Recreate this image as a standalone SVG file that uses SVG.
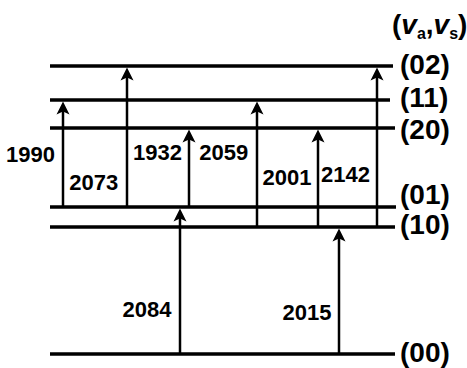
<svg xmlns="http://www.w3.org/2000/svg" width="467" height="368" viewBox="0 0 467 368">
<style>
.lvl{stroke:#000;stroke-width:3.5;fill:none}
.arr{stroke:#000;stroke-width:2.5;fill:none;marker-end:url(#ah)}
.lab{font-family:"Liberation Sans",Arial,sans-serif;font-weight:bold;font-size:22px;fill:#000}
.st{font-family:"Liberation Sans",Arial,sans-serif;font-weight:bold;font-size:28px;fill:#000}
</style>
<defs>
<marker id="ah" markerUnits="userSpaceOnUse" viewBox="-6 -7 15 14" markerWidth="15" markerHeight="14" refX="0" refY="0" orient="auto" overflow="visible">
<path d="M8,0 L-5,-6.5 L-2,0 L-5,6.5 Z" fill="#000"/>
</marker>
</defs>
<rect width="467" height="368" fill="#fff"/>
<g id="levels">
<g id="L02"><line class="lvl" x1="50" y1="66" x2="393" y2="66"/><text class="st" x="400" y="74">(02)</text></g>
<g id="L11"><line class="lvl" x1="50" y1="100" x2="390" y2="100"/><text class="st" x="400" y="107">(11)</text></g>
<g id="L20"><line class="lvl" x1="50" y1="128" x2="395" y2="128"/><text class="st" x="400" y="139">(20)</text></g>
<g id="L01"><line class="lvl" x1="50" y1="207" x2="396" y2="207"/><text class="st" x="400" y="204">(01)</text></g>
<g id="L10"><line class="lvl" x1="50" y1="227" x2="395" y2="227"/><text class="st" x="400" y="234">(10)</text></g>
<g id="L00"><line class="lvl" x1="50" y1="354" x2="395" y2="354"/><text class="st" x="400" y="362">(00)</text></g>
</g>
<g id="header"><text class="st" x="392" y="34" font-size="24">(<tspan font-style="italic">v</tspan><tspan font-size="16" dy="5">a</tspan><tspan dy="-5">,</tspan><tspan font-style="italic">v</tspan><tspan font-size="16" dy="5">s</tspan><tspan dy="-5">)</tspan></text></g>
<g id="connectors">
<line class="arr" x1="63" y1="207" x2="63" y2="109.5"/>
<line class="arr" x1="127" y1="207" x2="127" y2="75.5"/>
<line class="arr" x1="189" y1="207" x2="189" y2="137.5"/>
<line class="arr" x1="257" y1="227" x2="257" y2="109.5"/>
<line class="arr" x1="318" y1="227" x2="318" y2="137.5"/>
<line class="arr" x1="377" y1="227" x2="377" y2="75.5"/>
<line class="arr" x1="180" y1="354" x2="180" y2="216.5"/>
<line class="arr" x1="339" y1="354" x2="339" y2="236.5"/>
</g>
<g id="labels">
<text class="lab" x="6" y="161.7">1990</text>
<text class="lab" x="69.3" y="190">2073</text>
<text class="lab" x="133" y="160">1932</text>
<text class="lab" x="199.3" y="160">2059</text>
<text class="lab" x="262.6" y="185">2001</text>
<text class="lab" x="321" y="181.7">2142</text>
<text class="lab" x="122.6" y="316.7">2084</text>
<text class="lab" x="282.6" y="320">2015</text>
</g>
</svg>
